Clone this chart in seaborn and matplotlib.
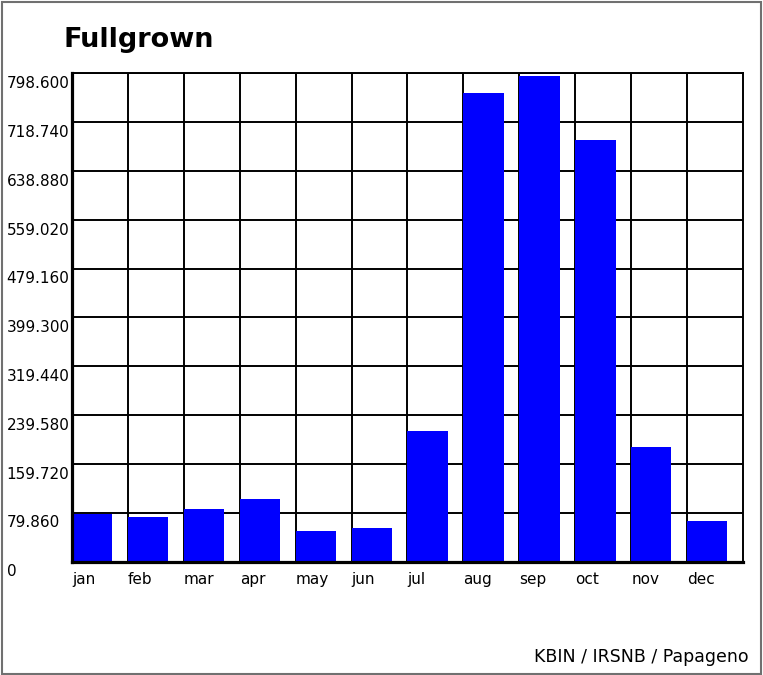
import numpy as np
import matplotlib
matplotlib.use("Agg")
import matplotlib.pyplot as plt
import matplotlib.transforms as mtrans
from matplotlib.patches import Rectangle
import seaborn as sns

sns.set_style("white")
plt.rcParams['font.family'] = ['DejaVu Sans']
plt.rcParams['text.color'] = 'black'

months = ['jan', 'feb', 'mar', 'apr', 'may', 'jun', 'jul', 'aug', 'sep', 'oct', 'nov', 'dec']
counts = [77, 73, 86, 103, 50, 54, 214, 767, 794, 689, 188, 67]
y_ticks = [0, 79.86, 159.72, 239.58, 319.44, 399.30, 479.16, 559.02, 638.88, 718.74, 798.60]
y_labels = ['0', '79.860', '159.720', '239.580', '319.440', '399.300',
            '479.160', '559.020', '638.880', '718.740', '798.600']
title = 'Fullgrown'
credit = 'KBIN / IRSNB / Papageno'

W, H = 763, 675
fig = plt.figure(figsize=(W / 100, H / 100), dpi=100)
ax = fig.add_axes([72 / W, 1 - 561.5 / H, 671 / W, 488.2 / H])

bw = 0.72
sns.barplot(x=months, y=counts, color='#0000ff', saturation=1, width=bw,
            linewidth=0, ax=ax)

# bars sit at the left edge of each month cell
ax.set_xticks(np.arange(len(months)) - bw / 2, months, ha='left')
ax.set_xlim(-bw / 2, len(months) - bw / 2)
ax.set_yticks(y_ticks, y_labels)
ax.set_ylim(0, y_ticks[-1])
ax.set_xlabel('')
ax.set_ylabel('')

ax.set_axisbelow(True)
ax.grid(True, color='black', linewidth=1.4)
for side in ['left', 'bottom']:
    ax.spines[side].set_linewidth(2.3)
    ax.spines[side].set_color('black')
for side in ['top', 'right']:
    ax.spines[side].set_linewidth(1.4)
    ax.spines[side].set_color('black')

ax.tick_params(axis='x', length=3.6, width=1.4, color='black', direction='out',
               pad=4, labelsize=11, labelcolor='black')
ax.tick_params(axis='y', length=0, pad=47, labelsize=11, labelcolor='black')
off = mtrans.ScaledTranslation(0, -2 / 72, fig.dpi_scale_trans)
for lab in ax.get_yticklabels():
    lab.set_ha('left')
    lab.set_va('top')
    lab.set_transform(lab.get_transform() + off)

fig.text(63 / W, 1 - 47 / H, title, fontsize=19.5, fontweight='bold',
         va='baseline', ha='left', color='black')
fig.text(749 / W, 1 - 661.7 / H, credit, fontsize=12.5, va='baseline', ha='right',
         color='black')

fig.patches.append(Rectangle((2 / W, 1.5 / H), 759 / W, 671.5 / H,
                             transform=fig.transFigure, fill=False,
                             edgecolor='#707070', linewidth=1.5))

fig.savefig('out.png', dpi=100)
